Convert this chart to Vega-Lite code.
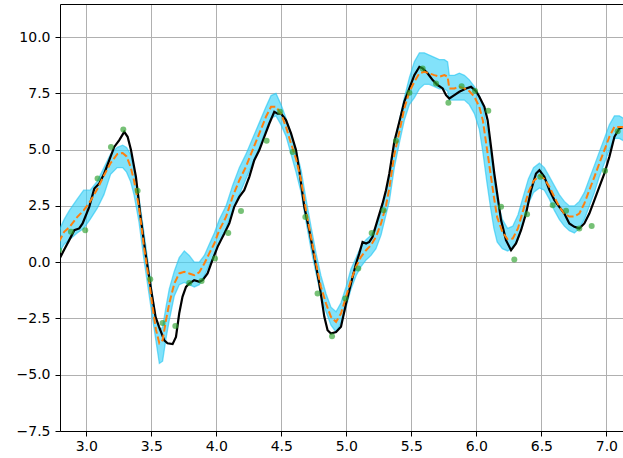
{
  "$schema": "https://vega.github.io/schema/vega-lite/v6.json",
  "width": 563,
  "height": 427,
  "autosize": {"type": "none"},
  "padding": {"left": 60, "top": 4, "right": 0, "bottom": 27},
  "background": "white",
  "config": {
    "view": {"stroke": null},
    "axis": {
      "labelFont": "DejaVu Sans",
      "labelFontSize": 14,
      "labelColor": "#000000",
      "tickColor": "#000000",
      "tickSize": 5,
      "tickWidth": 1,
      "domainColor": "#000000",
      "domainWidth": 1,
      "gridColor": "#b0b0b0",
      "gridWidth": 1,
      "gridOpacity": 1
    }
  },
  "datasets": {
    "band": [
      {"x": 2.79, "lo": 0.4, "hi": 1.4}, {"x": 2.83, "lo": 0.8, "hi": 1.9}, {"x": 2.87, "lo": 1.0, "hi": 2.3},
      {"x": 2.93, "lo": 1.3, "hi": 2.8}, {"x": 2.98, "lo": 1.5, "hi": 3.2}, {"x": 3.03, "lo": 1.9, "hi": 3.2},
      {"x": 3.085, "lo": 2.4, "hi": 3.6}, {"x": 3.136, "lo": 3.0, "hi": 4.2}, {"x": 3.187, "lo": 3.9, "hi": 4.8},
      {"x": 3.238, "lo": 4.2, "hi": 5.1}, {"x": 3.28, "lo": 4.2, "hi": 5.2}, {"x": 3.31, "lo": 4.0, "hi": 5.1},
      {"x": 3.34, "lo": 3.6, "hi": 4.8}, {"x": 3.367, "lo": 3.0, "hi": 4.1}, {"x": 3.405, "lo": 1.8, "hi": 2.9},
      {"x": 3.444, "lo": 0.1, "hi": 1.3}, {"x": 3.482, "lo": -1.4, "hi": -0.3}, {"x": 3.51, "lo": -2.5, "hi": -1.5},
      {"x": 3.536, "lo": -3.5, "hi": -2.5}, {"x": 3.562, "lo": -4.5, "hi": -3.0}, {"x": 3.587, "lo": -4.4, "hi": -2.9},
      {"x": 3.613, "lo": -3.4, "hi": -2.0}, {"x": 3.638, "lo": -2.6, "hi": -1.2}, {"x": 3.677, "lo": -1.5, "hi": -0.4},
      {"x": 3.715, "lo": -1.0, "hi": 0.2}, {"x": 3.754, "lo": -0.9, "hi": 0.5}, {"x": 3.792, "lo": -1.0, "hi": 0.3},
      {"x": 3.831, "lo": -1.1, "hi": 0.0}, {"x": 3.869, "lo": -1.0, "hi": 0.0}, {"x": 3.908, "lo": -0.6, "hi": 0.3},
      {"x": 3.946, "lo": -0.1, "hi": 0.8}, {"x": 3.985, "lo": 0.3, "hi": 1.3}, {"x": 4.023, "lo": 0.9, "hi": 1.9},
      {"x": 4.075, "lo": 1.5, "hi": 2.5}, {"x": 4.125, "lo": 2.3, "hi": 3.4}, {"x": 4.177, "lo": 3.0, "hi": 4.2},
      {"x": 4.228, "lo": 3.7, "hi": 4.8}, {"x": 4.279, "lo": 4.4, "hi": 5.5}, {"x": 4.331, "lo": 5.1, "hi": 6.2},
      {"x": 4.382, "lo": 5.9, "hi": 6.9}, {"x": 4.421, "lo": 6.4, "hi": 7.4}, {"x": 4.459, "lo": 6.5, "hi": 7.5},
      {"x": 4.498, "lo": 6.1, "hi": 7.0}, {"x": 4.536, "lo": 5.6, "hi": 6.4}, {"x": 4.575, "lo": 4.8, "hi": 5.7},
      {"x": 4.613, "lo": 4.0, "hi": 5.0}, {"x": 4.652, "lo": 3.1, "hi": 4.1}, {"x": 4.69, "lo": 1.8, "hi": 2.8},
      {"x": 4.728, "lo": 0.6, "hi": 1.6}, {"x": 4.767, "lo": -0.5, "hi": 0.4}, {"x": 4.805, "lo": -1.5, "hi": -0.6},
      {"x": 4.844, "lo": -2.2, "hi": -1.4}, {"x": 4.882, "lo": -2.8, "hi": -2.0}, {"x": 4.921, "lo": -3.1, "hi": -2.2},
      {"x": 4.959, "lo": -2.7, "hi": -1.8}, {"x": 4.998, "lo": -2.0, "hi": -1.1}, {"x": 5.036, "lo": -1.2, "hi": -0.3},
      {"x": 5.075, "lo": -0.6, "hi": 0.2}, {"x": 5.113, "lo": -0.2, "hi": 0.7}, {"x": 5.152, "lo": 0.1, "hi": 1.0},
      {"x": 5.19, "lo": 0.3, "hi": 1.2}, {"x": 5.228, "lo": 0.6, "hi": 1.6}, {"x": 5.267, "lo": 1.2, "hi": 2.2},
      {"x": 5.305, "lo": 2.1, "hi": 3.1}, {"x": 5.331, "lo": 2.7, "hi": 3.8}, {"x": 5.369, "lo": 4.2, "hi": 5.3},
      {"x": 5.408, "lo": 5.3, "hi": 6.3}, {"x": 5.446, "lo": 6.3, "hi": 7.3}, {"x": 5.485, "lo": 7.0, "hi": 8.2},
      {"x": 5.523, "lo": 7.3, "hi": 8.9}, {"x": 5.562, "lo": 7.7, "hi": 9.3}, {"x": 5.6, "lo": 7.9, "hi": 9.3},
      {"x": 5.638, "lo": 7.9, "hi": 9.2}, {"x": 5.677, "lo": 7.8, "hi": 9.1}, {"x": 5.715, "lo": 7.7, "hi": 9.0},
      {"x": 5.754, "lo": 7.7, "hi": 9.0}, {"x": 5.779, "lo": 7.6, "hi": 8.9}, {"x": 5.792, "lo": 7.2, "hi": 8.3},
      {"x": 5.831, "lo": 7.2, "hi": 8.3}, {"x": 5.869, "lo": 7.2, "hi": 8.4}, {"x": 5.908, "lo": 7.2, "hi": 8.3},
      {"x": 5.946, "lo": 7.0, "hi": 8.1}, {"x": 5.985, "lo": 6.6, "hi": 7.8}, {"x": 6.023, "lo": 5.9, "hi": 7.4},
      {"x": 6.05, "lo": 4.9, "hi": 6.9}, {"x": 6.08, "lo": 3.6, "hi": 6.0}, {"x": 6.11, "lo": 2.4, "hi": 5.0},
      {"x": 6.135, "lo": 1.5, "hi": 3.8}, {"x": 6.16, "lo": 0.9, "hi": 2.8}, {"x": 6.2, "lo": 0.6, "hi": 1.9},
      {"x": 6.24, "lo": 0.5, "hi": 1.5}, {"x": 6.28, "lo": 0.6, "hi": 1.6}, {"x": 6.32, "lo": 1.0, "hi": 2.1},
      {"x": 6.36, "lo": 1.7, "hi": 2.9}, {"x": 6.4, "lo": 2.6, "hi": 3.7}, {"x": 6.44, "lo": 3.1, "hi": 4.2},
      {"x": 6.485, "lo": 3.3, "hi": 4.4}, {"x": 6.523, "lo": 3.2, "hi": 4.2}, {"x": 6.562, "lo": 2.8, "hi": 3.8},
      {"x": 6.6, "lo": 2.3, "hi": 3.4}, {"x": 6.638, "lo": 1.9, "hi": 3.0}, {"x": 6.677, "lo": 1.6, "hi": 2.7},
      {"x": 6.715, "lo": 1.4, "hi": 2.5}, {"x": 6.754, "lo": 1.3, "hi": 2.5}, {"x": 6.792, "lo": 1.5, "hi": 2.7},
      {"x": 6.831, "lo": 1.9, "hi": 3.1}, {"x": 6.869, "lo": 2.5, "hi": 3.7}, {"x": 6.908, "lo": 3.1, "hi": 4.3},
      {"x": 6.946, "lo": 3.8, "hi": 4.9}, {"x": 6.985, "lo": 4.4, "hi": 5.5}, {"x": 7.023, "lo": 5.0, "hi": 6.1},
      {"x": 7.062, "lo": 5.5, "hi": 6.5}, {"x": 7.1, "lo": 5.5, "hi": 6.5}, {"x": 7.13, "lo": 5.4, "hi": 6.4}
    ],
    "truth": [
      {"x": 2.79, "y": 0.1}, {"x": 2.83, "y": 0.55}, {"x": 2.869, "y": 0.98}, {"x": 2.908, "y": 1.42},
      {"x": 2.946, "y": 1.5}, {"x": 2.972, "y": 1.72}, {"x": 3.023, "y": 2.46}, {"x": 3.062, "y": 3.27},
      {"x": 3.1, "y": 3.5}, {"x": 3.138, "y": 3.94}, {"x": 3.177, "y": 4.53}, {"x": 3.215, "y": 5.12},
      {"x": 3.254, "y": 5.42}, {"x": 3.292, "y": 5.79}, {"x": 3.318, "y": 5.57}, {"x": 3.344, "y": 4.98},
      {"x": 3.382, "y": 3.79}, {"x": 3.418, "y": 2.0}, {"x": 3.456, "y": 0.38}, {"x": 3.495, "y": -1.1},
      {"x": 3.533, "y": -2.43}, {"x": 3.56, "y": -2.87}, {"x": 3.6, "y": -3.47}, {"x": 3.625, "y": -3.6},
      {"x": 3.664, "y": -3.64}, {"x": 3.69, "y": -3.32}, {"x": 3.715, "y": -2.27}, {"x": 3.74, "y": -1.54},
      {"x": 3.767, "y": -1.1}, {"x": 3.792, "y": -0.95}, {"x": 3.83, "y": -0.8}, {"x": 3.87, "y": -0.87},
      {"x": 3.895, "y": -0.8}, {"x": 3.933, "y": -0.5}, {"x": 3.97, "y": 0.09}, {"x": 4.01, "y": 0.68},
      {"x": 4.036, "y": 0.98}, {"x": 4.062, "y": 1.27}, {"x": 4.1, "y": 1.72}, {"x": 4.138, "y": 2.46},
      {"x": 4.177, "y": 2.9}, {"x": 4.215, "y": 3.2}, {"x": 4.254, "y": 3.79}, {"x": 4.292, "y": 4.53},
      {"x": 4.331, "y": 4.98}, {"x": 4.369, "y": 5.57}, {"x": 4.408, "y": 6.16}, {"x": 4.446, "y": 6.68},
      {"x": 4.472, "y": 6.6}, {"x": 4.498, "y": 6.6}, {"x": 4.536, "y": 6.31}, {"x": 4.575, "y": 5.72},
      {"x": 4.613, "y": 4.98}, {"x": 4.638, "y": 4.09}, {"x": 4.677, "y": 2.46}, {"x": 4.715, "y": 1.42},
      {"x": 4.754, "y": 0.24}, {"x": 4.792, "y": -0.95}, {"x": 4.831, "y": -2.43}, {"x": 4.856, "y": -3.02},
      {"x": 4.882, "y": -3.17}, {"x": 4.921, "y": -3.1}, {"x": 4.959, "y": -2.87}, {"x": 4.998, "y": -1.84},
      {"x": 5.036, "y": -0.95}, {"x": 5.075, "y": -0.06}, {"x": 5.1, "y": 0.39}, {"x": 5.125, "y": 0.9},
      {"x": 5.152, "y": 0.83}, {"x": 5.177, "y": 0.9}, {"x": 5.202, "y": 1.13}, {"x": 5.24, "y": 1.87},
      {"x": 5.279, "y": 2.61}, {"x": 5.305, "y": 3.2}, {"x": 5.331, "y": 3.94}, {"x": 5.369, "y": 5.35},
      {"x": 5.408, "y": 6.24}, {"x": 5.446, "y": 7.13}, {"x": 5.485, "y": 7.72}, {"x": 5.523, "y": 8.31},
      {"x": 5.562, "y": 8.68}, {"x": 5.587, "y": 8.61}, {"x": 5.625, "y": 8.39}, {"x": 5.664, "y": 8.09},
      {"x": 5.702, "y": 7.87}, {"x": 5.741, "y": 7.72}, {"x": 5.767, "y": 7.42}, {"x": 5.792, "y": 7.27},
      {"x": 5.831, "y": 7.42}, {"x": 5.869, "y": 7.57}, {"x": 5.921, "y": 7.72}, {"x": 5.959, "y": 7.79},
      {"x": 5.998, "y": 7.6}, {"x": 6.023, "y": 7.35}, {"x": 6.062, "y": 6.9}, {"x": 6.087, "y": 6.31},
      {"x": 6.113, "y": 5.12}, {"x": 6.138, "y": 3.94}, {"x": 6.164, "y": 2.9}, {"x": 6.19, "y": 1.87},
      {"x": 6.228, "y": 0.98}, {"x": 6.267, "y": 0.53}, {"x": 6.305, "y": 0.83}, {"x": 6.344, "y": 1.42},
      {"x": 6.382, "y": 2.16}, {"x": 6.421, "y": 3.2}, {"x": 6.459, "y": 3.94}, {"x": 6.485, "y": 4.09},
      {"x": 6.523, "y": 3.79}, {"x": 6.562, "y": 3.2}, {"x": 6.6, "y": 2.76}, {"x": 6.638, "y": 2.46},
      {"x": 6.677, "y": 2.16}, {"x": 6.715, "y": 1.72}, {"x": 6.754, "y": 1.57}, {"x": 6.792, "y": 1.5},
      {"x": 6.831, "y": 1.72}, {"x": 6.869, "y": 2.16}, {"x": 6.908, "y": 2.76}, {"x": 6.946, "y": 3.35},
      {"x": 6.985, "y": 3.94}, {"x": 7.023, "y": 4.68}, {"x": 7.062, "y": 5.57}, {"x": 7.1, "y": 5.94},
      {"x": 7.13, "y": 6.01}
    ],
    "mean": [
      {"x": 2.79, "y": 0.9}, {"x": 2.83, "y": 1.35}, {"x": 2.87, "y": 1.55}, {"x": 2.93, "y": 2.0},
      {"x": 2.98, "y": 2.3}, {"x": 3.03, "y": 2.7}, {"x": 3.085, "y": 3.25}, {"x": 3.136, "y": 3.85},
      {"x": 3.187, "y": 4.4}, {"x": 3.238, "y": 4.8}, {"x": 3.28, "y": 4.85}, {"x": 3.31, "y": 4.7},
      {"x": 3.34, "y": 4.25}, {"x": 3.367, "y": 3.64}, {"x": 3.405, "y": 2.46}, {"x": 3.444, "y": 0.68},
      {"x": 3.482, "y": -0.8}, {"x": 3.51, "y": -2.0}, {"x": 3.536, "y": -3.0}, {"x": 3.562, "y": -3.6},
      {"x": 3.587, "y": -3.47}, {"x": 3.613, "y": -2.58}, {"x": 3.638, "y": -1.84}, {"x": 3.677, "y": -0.95},
      {"x": 3.715, "y": -0.5}, {"x": 3.754, "y": -0.43}, {"x": 3.792, "y": -0.5}, {"x": 3.831, "y": -0.58},
      {"x": 3.869, "y": -0.45}, {"x": 3.908, "y": -0.06}, {"x": 3.946, "y": 0.39}, {"x": 3.985, "y": 0.83},
      {"x": 4.023, "y": 1.42}, {"x": 4.075, "y": 2.01}, {"x": 4.125, "y": 2.9}, {"x": 4.177, "y": 3.64},
      {"x": 4.228, "y": 4.24}, {"x": 4.279, "y": 4.98}, {"x": 4.331, "y": 5.72}, {"x": 4.382, "y": 6.46},
      {"x": 4.421, "y": 6.9}, {"x": 4.459, "y": 6.9}, {"x": 4.498, "y": 6.6}, {"x": 4.536, "y": 6.01},
      {"x": 4.575, "y": 5.27}, {"x": 4.613, "y": 4.6}, {"x": 4.652, "y": 3.64}, {"x": 4.69, "y": 2.31},
      {"x": 4.728, "y": 1.13}, {"x": 4.767, "y": -0.06}, {"x": 4.805, "y": -1.1}, {"x": 4.844, "y": -1.84},
      {"x": 4.882, "y": -2.43}, {"x": 4.921, "y": -2.65}, {"x": 4.959, "y": -2.28}, {"x": 4.998, "y": -1.54},
      {"x": 5.036, "y": -0.8}, {"x": 5.075, "y": -0.21}, {"x": 5.113, "y": 0.24}, {"x": 5.152, "y": 0.53},
      {"x": 5.19, "y": 0.76}, {"x": 5.228, "y": 1.13}, {"x": 5.267, "y": 1.72}, {"x": 5.305, "y": 2.5},
      {"x": 5.331, "y": 3.3}, {"x": 5.369, "y": 4.76}, {"x": 5.408, "y": 5.79}, {"x": 5.446, "y": 6.83},
      {"x": 5.485, "y": 7.57}, {"x": 5.523, "y": 8.01}, {"x": 5.562, "y": 8.39}, {"x": 5.6, "y": 8.46},
      {"x": 5.638, "y": 8.39}, {"x": 5.677, "y": 8.31}, {"x": 5.715, "y": 8.24}, {"x": 5.754, "y": 8.31},
      {"x": 5.779, "y": 8.24}, {"x": 5.792, "y": 7.72}, {"x": 5.831, "y": 7.72}, {"x": 5.869, "y": 7.79},
      {"x": 5.908, "y": 7.72}, {"x": 5.946, "y": 7.6}, {"x": 5.985, "y": 7.35}, {"x": 6.023, "y": 6.9},
      {"x": 6.05, "y": 6.3}, {"x": 6.08, "y": 5.1}, {"x": 6.11, "y": 3.9}, {"x": 6.135, "y": 2.9},
      {"x": 6.16, "y": 2.0}, {"x": 6.2, "y": 1.35}, {"x": 6.24, "y": 1.02}, {"x": 6.28, "y": 1.05},
      {"x": 6.32, "y": 1.5}, {"x": 6.36, "y": 2.3}, {"x": 6.4, "y": 3.1}, {"x": 6.44, "y": 3.6},
      {"x": 6.485, "y": 3.85}, {"x": 6.523, "y": 3.7}, {"x": 6.562, "y": 3.35}, {"x": 6.6, "y": 2.9},
      {"x": 6.638, "y": 2.46}, {"x": 6.677, "y": 2.16}, {"x": 6.715, "y": 2.03}, {"x": 6.754, "y": 2.03},
      {"x": 6.792, "y": 2.16}, {"x": 6.831, "y": 2.61}, {"x": 6.869, "y": 3.2}, {"x": 6.908, "y": 3.79},
      {"x": 6.946, "y": 4.39}, {"x": 6.985, "y": 4.98}, {"x": 7.023, "y": 5.57}, {"x": 7.062, "y": 6.01},
      {"x": 7.1, "y": 6.01}, {"x": 7.13, "y": 6.01}
    ],
    "obs": [
      {"x": 2.792, "y": 0.53}, {"x": 2.882, "y": 1.35}, {"x": 2.992, "y": 1.42}, {"x": 3.087, "y": 3.72},
      {"x": 3.19, "y": 5.12}, {"x": 3.285, "y": 5.9}, {"x": 3.395, "y": 3.17}, {"x": 3.492, "y": -0.76},
      {"x": 3.587, "y": -2.7}, {"x": 3.685, "y": -2.84}, {"x": 3.792, "y": -0.92}, {"x": 3.887, "y": -0.84},
      {"x": 3.99, "y": 0.16}, {"x": 4.092, "y": 1.3}, {"x": 4.19, "y": 2.27}, {"x": 4.387, "y": 5.39},
      {"x": 4.49, "y": 6.68}, {"x": 4.587, "y": 4.9}, {"x": 4.685, "y": 2.01}, {"x": 4.779, "y": -1.39},
      {"x": 4.89, "y": -3.29}, {"x": 4.992, "y": -1.61}, {"x": 5.092, "y": -0.28}, {"x": 5.195, "y": 1.3},
      {"x": 5.287, "y": 2.31}, {"x": 5.382, "y": 5.39}, {"x": 5.485, "y": 7.53}, {"x": 5.587, "y": 8.6},
      {"x": 5.69, "y": 7.94}, {"x": 5.785, "y": 7.08}, {"x": 5.887, "y": 7.82}, {"x": 5.99, "y": 7.6},
      {"x": 6.092, "y": 6.73}, {"x": 6.19, "y": 2.46}, {"x": 6.292, "y": 0.12}, {"x": 6.39, "y": 2.13},
      {"x": 6.492, "y": 3.79}, {"x": 6.587, "y": 2.53}, {"x": 6.69, "y": 2.28}, {"x": 6.792, "y": 1.5},
      {"x": 6.887, "y": 1.61}, {"x": 6.99, "y": 4.06}, {"x": 7.087, "y": 5.82}
    ]
  },
  "layer": [
    {
      "data": {"name": "band"},
      "mark": {"type": "area", "color": "#3fd3f7", "opacity": 0.65, "clip": true},
      "encoding": {
        "x": {
          "field": "x", "type": "quantitative",
          "scale": {"domain": [2.798, 7.128], "nice": false, "zero": false},
          "axis": {
            "orient": "bottom", "title": null, "grid": true,
            "values": [3.0, 3.5, 4.0, 4.5, 5.0, 5.5, 6.0, 6.5, 7.0],
            "format": ".1f", "labelPadding": 3, "labelFlush": false
          }
        },
        "y": {
          "field": "lo", "type": "quantitative", "title": null,
          "scale": {"domain": [-7.5, 11.47], "nice": false, "zero": false},
          "axis": {
            "grid": true,
            "values": [-7.5, -5, -2.5, 0, 2.5, 5, 7.5, 10],
            "labelExpr": "replace(format(datum.value, '.1f'), '-', '\u2212')",
            "labelPadding": 5, "labelFlush": false
          }
        },
        "y2": {"field": "hi"}
      }
    },
    {
      "data": {"name": "band"},
      "mark": {"type": "line", "color": "#22c4f2", "opacity": 0.6, "strokeWidth": 1.3, "clip": true},
      "encoding": {
        "x": {"field": "x", "type": "quantitative", "axis": null},
        "y": {"field": "lo", "type": "quantitative", "title": null}
      }
    },
    {
      "data": {"name": "band"},
      "mark": {"type": "line", "color": "#22c4f2", "opacity": 0.6, "strokeWidth": 1.3, "clip": true},
      "encoding": {
        "x": {"field": "x", "type": "quantitative", "axis": null},
        "y": {"field": "hi", "type": "quantitative", "title": null}
      }
    },
    {
      "data": {"name": "truth"},
      "mark": {"type": "line", "color": "#000000", "strokeWidth": 2.2, "clip": true},
      "encoding": {
        "x": {"field": "x", "type": "quantitative", "axis": null},
        "y": {"field": "y", "type": "quantitative", "title": null}
      }
    },
    {
      "data": {"name": "mean"},
      "mark": {"type": "line", "color": "#ff7f0e", "strokeWidth": 2, "strokeDash": [7, 3], "clip": true},
      "encoding": {
        "x": {"field": "x", "type": "quantitative", "axis": null},
        "y": {"field": "y", "type": "quantitative", "title": null}
      }
    },
    {
      "data": {"name": "obs"},
      "mark": {"type": "point", "filled": true, "color": "#2ca02c", "opacity": 0.65, "size": 36, "clip": true},
      "encoding": {
        "x": {"field": "x", "type": "quantitative", "axis": null},
        "y": {"field": "y", "type": "quantitative", "title": null}
      }
    },
    {
      "data": {"name": "obs"},
      "mark": {"type": "point", "opacity": 0},
      "encoding": {
        "x": {
          "field": "x", "type": "quantitative",
          "axis": {"orient": "top", "title": null, "labels": false, "ticks": false, "grid": false, "domain": true}
        },
        "y": {"field": "y", "type": "quantitative", "title": null}
      }
    }
  ],
  "resolve": {"axis": {"x": "independent"}}
}
